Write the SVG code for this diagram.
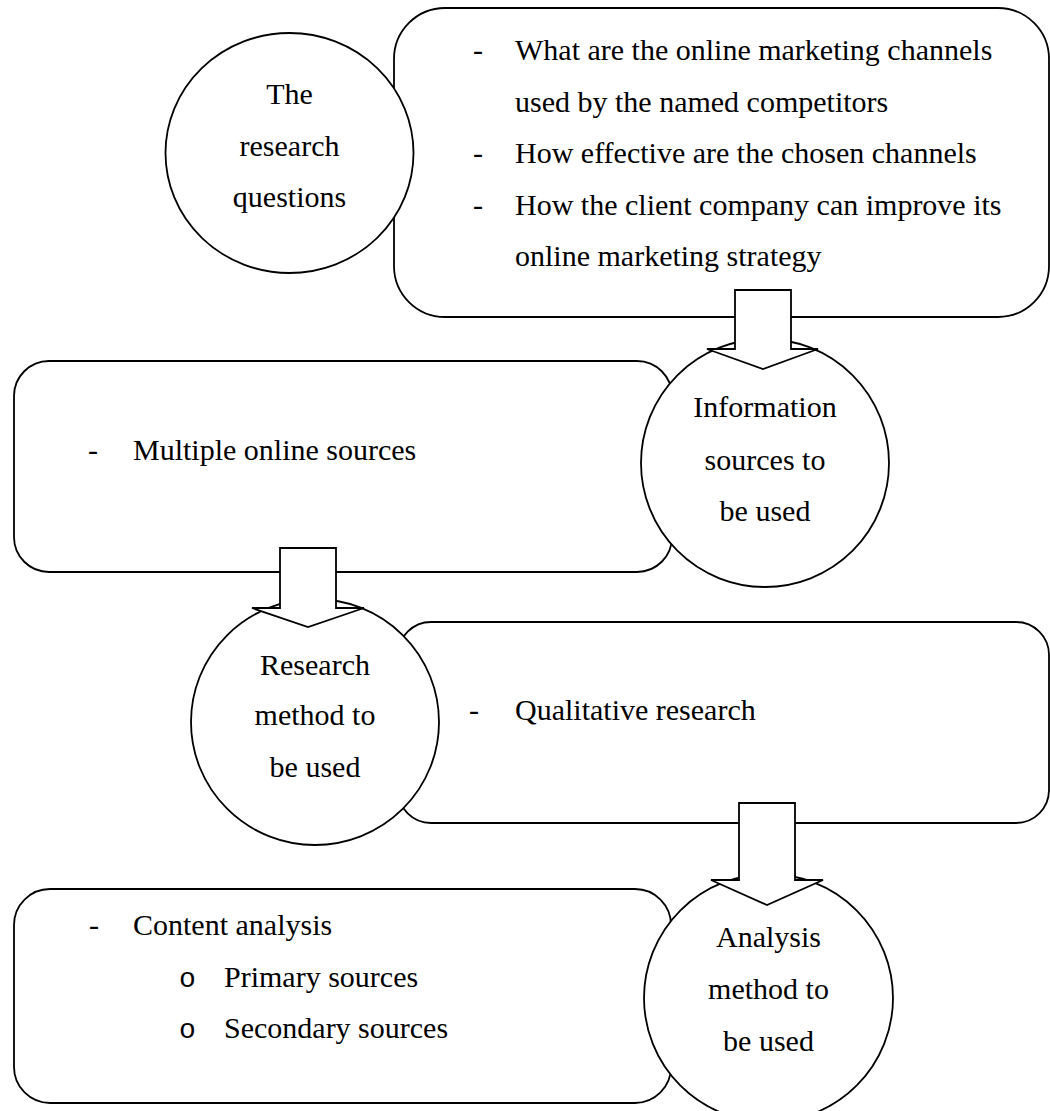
<svg xmlns="http://www.w3.org/2000/svg" width="1050" height="1111" viewBox="0 0 1050 1111">
<style>
.shape{fill:#fff;stroke:#000;stroke-width:1.8}
text{font-family:"Liberation Serif","Times New Roman",serif;font-size:30px;fill:#000}
.c{text-anchor:middle}
.b{font-family:"Liberation Mono","Courier New",monospace;font-size:28px}
</style>
<rect width="1050" height="1111" fill="#fff"/>
<g id="box-questions">
<rect class="shape" x="394" y="8" width="655" height="309" rx="51" ry="51"/>
<text x="473" y="60">-</text><text x="515" y="60">What are the online marketing channels</text>
<text x="515" y="112">used by the named competitors</text>
<text x="473" y="163">-</text><text x="515" y="163">How effective are the chosen channels</text>
<text x="473" y="215">-</text><text x="515" y="215">How the client company can improve its</text>
<text x="515" y="266">online marketing strategy</text>
</g>
<g id="box-sources">
<rect class="shape" x="14" y="361" width="658" height="211" rx="35" ry="35"/>
<text x="88" y="460">-</text><text x="133" y="460">Multiple online sources</text>
</g>
<g id="box-method">
<rect class="shape" x="398" y="622" width="651" height="201" rx="33" ry="33"/>
<text x="469" y="720">-</text><text x="515" y="720">Qualitative research</text>
</g>
<g id="box-analysis">
<rect class="shape" x="14" y="889" width="657" height="214" rx="36" ry="36"/>
<text x="89" y="935">-</text><text x="133" y="935">Content analysis</text>
<text class="b" x="179" y="987">o</text><text x="224" y="987">Primary sources</text>
<text class="b" x="179" y="1038">o</text><text x="224" y="1038">Secondary sources</text>
</g>
<g id="circle-questions">
<ellipse class="shape" cx="289.5" cy="153" rx="124" ry="120"/>
<text class="c" x="289.5" y="104">The</text>
<text class="c" x="289.5" y="156">research</text>
<text class="c" x="289.5" y="207">questions</text>
</g>
<g id="circle-sources">
<ellipse class="shape" cx="765" cy="463" rx="124" ry="124"/>
<text class="c" x="765" y="417">Information</text>
<text class="c" x="765" y="470">sources to</text>
<text class="c" x="765" y="521">be used</text>
</g>
<g id="circle-method">
<ellipse class="shape" cx="315" cy="722" rx="124" ry="123"/>
<text class="c" x="315" y="675">Research</text>
<text class="c" x="315" y="725">method to</text>
<text class="c" x="315" y="777">be used</text>
</g>
<g id="circle-analysis">
<ellipse class="shape" cx="768.5" cy="998" rx="124.5" ry="124"/>
<text class="c" x="768.5" y="947">Analysis</text>
<text class="c" x="768.5" y="999">method to</text>
<text class="c" x="768.5" y="1051">be used</text>
</g>
<g id="connectors">
<polygon class="shape" points="735,290 791,290 791,349 818,349 763,369 707,349 735,349"/>
<polygon class="shape" points="280,548 336,548 336,608 364,608 308,627 252,608 280,608"/>
<polygon class="shape" points="739,803 795,803 795,880 823,880 767,905 711,880 739,880"/>
</g>
</svg>
